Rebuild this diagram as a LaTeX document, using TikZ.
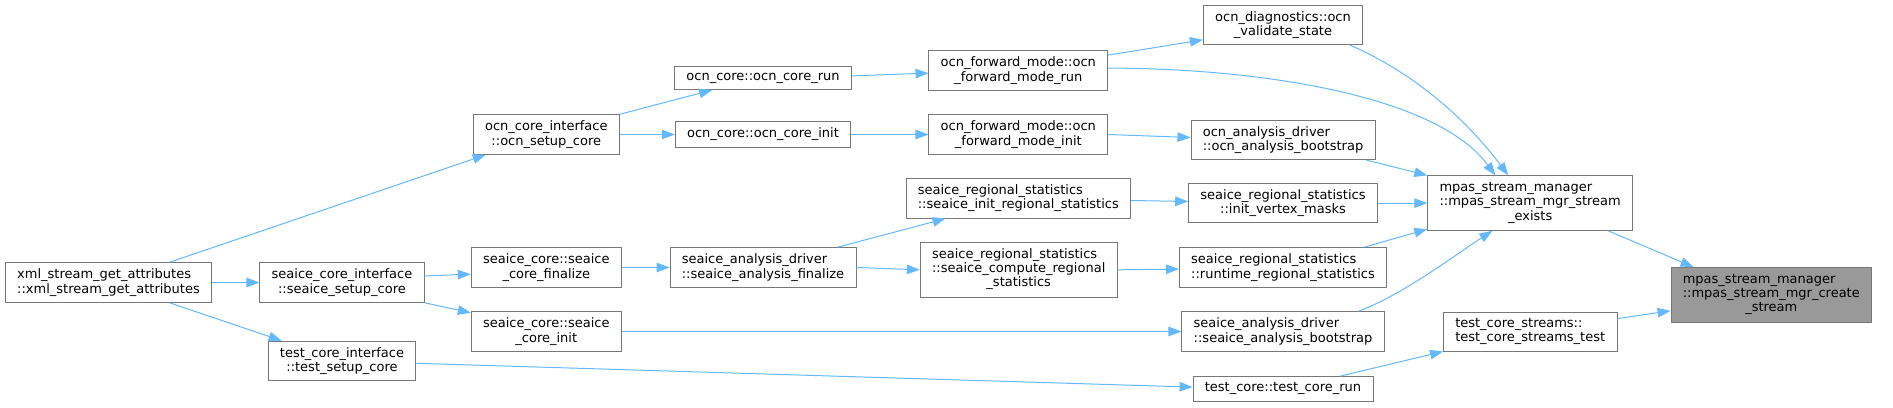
\documentclass[tikz,border=0pt]{standalone}
\usepackage{fontspec}
\setmainfont{DejaVu Sans}
\usetikzlibrary{positioning,arrows.meta}
\definecolor{edgeblue}{HTML}{63B8FF}
\definecolor{boxgray}{HTML}{777777}
\definecolor{rootfill}{HTML}{999999}
\newcommand{\lastline}[1]{\multicolumn{1}{@{}c@{}}{#1}}

\begin{document}
\begin{tikzpicture}[x=1pt, y=1pt,
    font=\fontsize{13}{14.3}\selectfont,
    fnbox/.style={draw=boxgray, line width=0.9pt, fill=white, inner xsep=11.8pt, inner ysep=6.2pt},
    fn/.style={fnbox, align=center},
    fnl/.style={fnbox, align=left},
    fnt/.style={fnbox, inner ysep=5.8pt},
    call/.style={draw=edgeblue, line width=1pt, -{Triangle[length=13pt,width=9.5pt]}}]
  \useasboundingbox (0,0) rectangle (1893,-407);

  \node[fnl] (xml) at (108.5,-282.5) {xml\_stream\_get\_attributes\\::xml\_stream\_get\_attributes};
  \node[fn, on grid, right=233.5pt of xml] (sci) {seaice\_core\_interface\\::seaice\_setup\_core};
  \node[fn, on grid, below=78.5pt of sci] (tci) {test\_core\_interface\\::test\_setup\_core};
  \node[fn, on grid, above right=15pt and 204.3pt of sci] (scf) {seaice\_core::seaice\\\_core\_finalize};
  \node[fn, on grid, below=64pt of scf] (scinit) {seaice\_core::seaice\\\_core\_init};
  \node[fn, on grid, above=133pt of scf] (oci) {ocn\_core\_interface\\::ocn\_setup\_core};
  \node[fn, on grid, right=216.7pt of oci] (oinit) {ocn\_core::ocn\_core\_init};
  \node[fn, on grid, above=56.3pt of oinit] (orun) {ocn\_core::ocn\_core\_run};
  \node[fnl, on grid, right=216.7pt of scf] (saf) {seaice\_analysis\_driver\\::seaice\_analysis\_finalize};
  \node[fn, on grid, right=255.3pt of oinit] (ofi) {ocn\_forward\_mode::ocn\\\_forward\_mode\_init};
  \node[fn, on grid, above=64pt of ofi] (ofr) {ocn\_forward\_mode::ocn\\\_forward\_mode\_run};
  \node[fnl, on grid, below=63.8pt of ofi] (sirs) {seaice\_regional\_statistics\\::seaice\_init\_regional\_statistics};
  \node[fnt, on grid, below right=2.3pt and 255.7pt of saf] (scrs) {\begin{tabular}{@{}l@{}}seaice\_regional\_statistics\\::seaice\_compute\_regional\\\lastline{\_statistics}\end{tabular}};
  \node[fnl, on grid, below right=5.3pt and 264.7pt of ofi] (oab) {ocn\_analysis\_driver\\::ocn\_analysis\_bootstrap};
  \node[fn, on grid, above=115pt of oab] (ovs) {ocn\_diagnostics::ocn\\\_validate\_state};
  \node[fn, on grid, below=63.3pt of oab] (ivm) {seaice\_regional\_statistics\\::init\_vertex\_masks};
  \node[fnl, on grid, below=64.4pt of ivm] (rrs) {seaice\_regional\_statistics\\::runtime\_regional\_statistics};
  \node[fnl, on grid, below=64pt of rrs] (sab) {seaice\_analysis\_driver\\::seaice\_analysis\_bootstrap};
  \node[fn, on grid, below=57.3pt of sab] (tcr) {test\_core::test\_core\_run};
  \node[fnt, on grid, right=247.2pt of ivm] (mse) {\begin{tabular}{@{}l@{}}mpas\_stream\_manager\\::mpas\_stream\_mgr\_stream\\\lastline{\_exists}\end{tabular}};
  \node[fnl, on grid, below=128.5pt of mse] (cts) {test\_core\_streams::\\test\_core\_streams\_test};
  \node[fnt, fill=rootfill, on grid, below right=91.7pt and 241.1pt of mse] (mcs) {\begin{tabular}{@{}l@{}}mpas\_stream\_manager\\::mpas\_stream\_mgr\_create\\\lastline{\_stream}\end{tabular}};

  \draw[call] ([xshift=61pt]xml.north) -- ([xshift=13pt]oci.south west);
  \draw[call] (xml.east) -- (sci.west);
  \draw[call] ([xshift=61pt]xml.south) -- ([xshift=14pt]tci.north west);
  \draw[call] (oci.north east) -- ([xshift=38pt]orun.south west);
  \draw[call] (oci.east) -- (oinit.west);
  \draw[call] ([yshift=2.3pt]orun.east) -- ([yshift=-2.6pt]ofr.west);
  \draw[call] (oinit.east) -- (ofi.west);
  \draw[call] ([yshift=15.4pt]ofr.east) -- ([yshift=-15pt]ovs.west);
  \draw[call] ([yshift=2.4pt]ofr.east) .. controls +(143pt,0pt) and +(-60pt,82pt) .. ([xshift=68pt]mse.north west);
  \draw[call] ([xshift=67pt]ovs.south) .. controls +(60pt,-26pt) and +(-45pt,60pt) .. ([xshift=81pt]mse.north west);
  \draw[call] (ofi.east) -- ([yshift=2.3pt]oab.west);
  \draw[call] ([xshift=-9pt]oab.south east) -- (mse.north west);
  \draw[call] ([yshift=6.5pt]sci.east) -- ([yshift=-6.6pt]scf.west);
  \draw[call] (sci.south east) -- ([yshift=-1.6pt]scinit.north west);
  \draw[call] (scf.east) -- (saf.west);
  \draw[call] ([xshift=-19pt]saf.north east) -- ([xshift=40pt]sirs.south west);
  \draw[call] (saf.east) -- (scrs.west);
  \draw[call] ([yshift=-2.2pt]sirs.east) -- ([yshift=1.6pt]ivm.west);
  \draw[call] (ivm.east) -- (mse.west);
  \draw[call] (scrs.east) -- ([yshift=-1.6pt]rrs.west);
  \draw[call] ([xshift=-23pt]rrs.north east) -- ([yshift=1.7pt]mse.south west);
  \draw[call] (scinit.east) -- (sab.west);
  \draw[call] ([xshift=-26pt]sab.north east) .. controls +(45pt,17pt) and +(-40pt,-26pt) .. ([xshift=65pt]mse.south west);
  \draw[call] ([yshift=-2.3pt]tci.east) -- ([yshift=1.7pt]tcr.west);
  \draw[call] ([xshift=-33pt]tcr.north east) -- (cts.south west);
  \draw[call] ([xshift=-25pt]mse.south east) -- ([xshift=23pt]mcs.north west);
  \draw[call] ([yshift=13pt]cts.east) -- ([yshift=-16pt]mcs.west);
\end{tikzpicture}
\end{document}
